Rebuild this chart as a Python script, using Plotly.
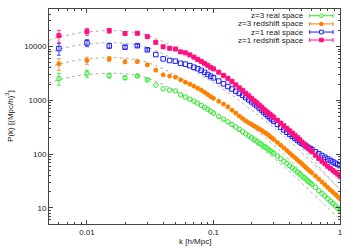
import plotly.graph_objects as go

# ---------------- data ----------------
k = [0.006, 0.01, 0.015, 0.02, 0.025, 0.03, 0.035, 0.04, 0.045, 0.05,
     0.055, 0.06, 0.065, 0.07, 0.075, 0.08, 0.085, 0.09, 0.095, 0.1,
     0.11, 0.12, 0.13, 0.14, 0.15, 0.16, 0.17, 0.18, 0.19, 0.2,
     0.21, 0.22, 0.23, 0.24, 0.25, 0.26, 0.27, 0.28, 0.29, 0.3,
     0.32, 0.34, 0.36, 0.38, 0.4, 0.42, 0.44, 0.46, 0.48, 0.5,
     0.52, 0.54, 0.56, 0.58, 0.6,
     0.64, 0.68, 0.72, 0.76, 0.8, 0.84, 0.88, 0.92, 0.96, 1.0]

p_z3_real = [2540, 3150, 2890, 2620, 2850, 2400, 1920, 1640, 1550, 1500,
             1265, 1151, 1052, 966, 879, 803, 738, 678, 625, 578,
             502, 446, 398, 355, 319, 288, 261, 237, 218, 201,
             186, 173, 161, 150, 140, 132, 124, 116, 109.4, 103.1,
             92.2, 82.2, 73.8, 66.9, 60.6, 55.2, 50.6, 46.3, 42.5, 39.2,
             36.4, 33.9, 31.2, 29.3, 27.4,
             24.1, 20.8, 18.6, 16.6, 14.8, 13.3, 12.0, 10.9, 9.9, 9.0]

p_z3_red = [4770, 5500, 5900, 5200, 5260, 4570, 3640, 2980, 2820, 2700,
            2405, 2180, 2000, 1836, 1679, 1549, 1410, 1277, 1172, 1090,
            958, 850, 757, 657, 578, 509, 457, 412, 382, 357,
            331, 313, 293, 276, 258, 243, 228, 213, 199, 187,
            165, 146, 130, 116, 104.4, 94.2, 85.8, 78.0, 71.6, 65.8,
            60.4, 55.6, 51.5, 47.9, 44.7,
            39.0, 34.2, 30.2, 26.9, 23.9, 21.5, 19.4, 17.7, 16.1, 14.6]

p_z1_real = [9180, 11700, 10300, 9750, 10400, 8700, 7100, 5900, 5500, 5350,
             4875, 4710, 4415, 4120, 3880, 3610, 3315, 3030, 2805, 2620,
             2285, 2028, 1807, 1623, 1470, 1344, 1234, 1123, 1022, 938,
             861, 791, 720, 661, 604, 555, 511, 473, 438, 406,
             357, 315, 283, 255, 233, 214, 198, 182, 169, 159,
             149, 141, 133, 127, 121,
             110, 101, 94, 87, 81, 76, 71.3, 67.5, 64.1, 61.1]

p_z1_red = [16000, 19000, 19800, 17500, 17700, 15300, 12000, 9900, 9300, 9000,
            7970, 7640, 7010, 6360, 5780, 5310, 4875, 4475, 4110, 3850,
            3345, 2915, 2565, 2255, 1940, 1708, 1535, 1350, 1213, 1090,
            980, 899, 815, 748, 681, 630, 586, 547, 511, 479,
            425, 377, 336, 300, 271, 246, 224, 204, 185, 167,
            153, 140, 128, 119, 110,
            95, 83, 73.5, 66, 59.3, 54.4, 49.6, 45.9, 42.2, 38.7]

# relative 1-sigma errors of the lowest-k bins (the rest are hidden under markers)
rel_err = [0.25, 0.15, 0.10, 0.075, 0.06, 0.05]

# linear-theory curves (grey dotted)
k_lin = [0.005, 0.006, 0.008, 0.01, 0.013, 0.016, 0.02, 0.025, 0.03, 0.04,
         0.05, 0.07, 0.1, 0.15, 0.2, 0.3, 0.4, 0.5, 0.7, 1.0]
lin_z3_real = [2090, 2420, 2820, 3020, 3160, 3200, 3120, 2920, 2620, 1980,
               1500, 960, 575, 300, 178, 84, 47, 29, 13.5, 6.0]
lin_z3_red = [4080, 4720, 5500, 5890, 6160, 6240, 6080, 5690, 5110, 3860,
              2930, 1870, 1110, 564, 326, 147, 78, 46, 20, 8.6]
lin_z1_real = [7730, 8950, 10430, 11170, 11690, 11840, 11540, 10800, 9690, 7330,
               5550, 3550, 2130, 1110, 659, 311, 174, 107, 50, 22.2]
lin_z1_red = [12960, 15000, 17480, 18720, 19590, 19840, 19340, 18100, 16240, 12280,
              9300, 5950, 3510, 1770, 1015, 445, 230, 130, 54, 21.7]

series_names = ["z=3 real space", "z=3 redshift space", "z=1 real space", "z=1 redshift space"]
x_tickvals = [0.01, 0.1, 1]
x_ticktext = ["0.01", "0.1", "1"]
y_tickvals = [10, 100, 1000, 10000]
y_ticktext = ["10", "100", "1000", "10000"]

# ---------------- style ----------------
colors = ["#22ee22", "#ff8000", "#1a1aff", "#ff1080"]
symbols = ["circle-open", "circle", "square-open", "square"]
sizes = [4.5, 4, 4.5, 4]
FONT = "Liberation Sans, Arial, sans-serif"
AX = "#444444"

fig = go.Figure()

for lin in [lin_z3_real, lin_z3_red, lin_z1_real, lin_z1_red]:
    fig.add_trace(go.Scatter(x=k_lin, y=lin, mode="lines", showlegend=False,
                             line=dict(color="#b0b0b0", width=1, dash="dot"),
                             hoverinfo="skip"))

n_err = len(rel_err)
for name, p, c, s, sz in zip(series_names, [p_z3_real, p_z3_red, p_z1_real, p_z1_red],
                             colors, symbols, sizes):
    # error bars only where they are visible (low k)
    fig.add_trace(go.Scatter(
        x=k[:n_err], y=p[:n_err], mode="markers", showlegend=False, hoverinfo="skip",
        marker=dict(size=1, color="rgba(0,0,0,0)"),
        error_y=dict(type="data", array=[p[i] * rel_err[i] for i in range(n_err)],
                     visible=True, color=c, thickness=0.8, width=2),
    ))
    fig.add_trace(go.Scatter(
        x=k, y=p, mode="markers", name=name, showlegend=False,
        marker=dict(symbol=s, size=sz, color=c, line=dict(color=c, width=1)),
    ))

# minor ticks
x_minor = [m * d for d in [0.001, 0.01, 0.1] for m in range(2, 10) if 0.005 <= m * d <= 1]
y_minor = [m * d for d in [1, 10, 100, 1000, 10000] for m in range(2, 10) if 5 <= m * d <= 50000]

axis_common = dict(type="log", showgrid=False, zeroline=False, showline=True,
                   linecolor=AX, linewidth=1, mirror="ticks", ticks="inside",
                   ticklen=4, tickcolor=AX, tickwidth=1, automargin=False,
                   tickfont=dict(family=FONT, size=8, color="#222222"))

fig.update_xaxes(**axis_common, range=[-2.3, 0], tickvals=x_tickvals, ticktext=x_ticktext,
                 minor=dict(tickvals=x_minor, ticks="inside", ticklen=2, tickcolor=AX))
fig.update_yaxes(**axis_common, range=[0.699, 4.699], tickvals=y_tickvals, ticktext=y_ticktext,
                 minor=dict(tickvals=y_minor, ticks="inside", ticklen=2, tickcolor=AX))

# ---------------- manual legend (text left, sample right) ----------------
L, T, W, H = 49, 9.3, 291.3, 214.7
def px(x):
    return (x - L) / W
def py(y):
    return 1 - (y - T) / H

rows = [16, 24.2, 32.3, 40.3]
shapes = []
annotations = []
for name, c, s, ry in zip(series_names, colors, symbols, rows):
    annotations.append(dict(x=px(306.7), y=py(ry), xref="paper", yref="paper",
                            text=name, showarrow=False, xanchor="right", yanchor="middle",
                            font=dict(family=FONT, size=8, color="#222222")))
    shapes.append(dict(type="line", xref="paper", yref="paper", x0=px(310), x1=px(333.3),
                       y0=py(ry), y1=py(ry), line=dict(color=c, width=1)))
    for xx in (310, 333.3):
        shapes.append(dict(type="line", xref="paper", yref="paper", x0=px(xx), x1=px(xx),
                           y0=py(ry - 2), y1=py(ry + 2), line=dict(color=c, width=1)))
    filled = not s.endswith("open")
    shapes.append(dict(type="circle" if s.startswith("circle") else "rect",
                       xref="paper", yref="paper", xsizemode="pixel", ysizemode="pixel",
                       xanchor=px(321.7), yanchor=py(ry), x0=-1.8, x1=1.8, y0=-1.8, y1=1.8,
                       line=dict(color=c, width=1),
                       fillcolor=c if filled else "white"))

annotations.append(dict(x=px(195), y=py(241), xref="paper", yref="paper", text="k [h/Mpc]",
                        showarrow=False, xanchor="center", yanchor="middle",
                        font=dict(family=FONT, size=8, color="#222222")))
annotations.append(dict(x=px(9), y=py(116), xref="paper", yref="paper",
                        text="P(k) [(Mpc/h)<sup>3</sup>]", textangle=-90,
                        showarrow=False, xanchor="center", yanchor="middle",
                        font=dict(family=FONT, size=8, color="#222222")))

fig.update_layout(width=354, height=248, margin=dict(l=49, r=13.7, t=9.3, b=24),
                  paper_bgcolor="white", plot_bgcolor="white",
                  shapes=shapes, annotations=annotations, showlegend=False)

fig.write_html("out.html", config={"displayModeBar": False},
               post_script="document.body.style.margin='0';document.body.style.overflow='hidden';")
